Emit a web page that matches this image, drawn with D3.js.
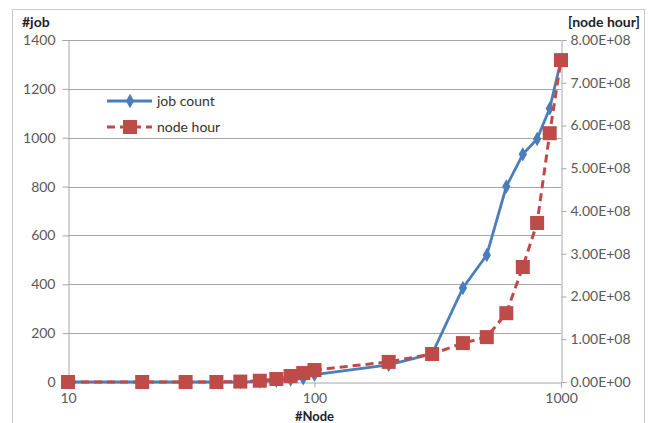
<!DOCTYPE html>
<html><head><meta charset="utf-8">
<script src="https://cdn.jsdelivr.net/npm/d3@7"></script>
<style>body{margin:0;background:#fff}svg{display:block}</style>
</head><body>
<svg id="c" width="648" height="423"></svg>
<script>
const nodes = [10,20,30,40,50,60,70,80,90,100,200,300,400,500,600,700,800,900,1000];
const jobCount = [0,0,0,0,0,2,5,10,15,30,70,115,385,520,800,932,995,1120,1317];
const nodeHour = [0,0,0,0,0.01e8,0.03e8,0.07e8,0.14e8,0.21e8,0.28e8,0.47e8,0.655e8,0.91e8,1.05e8,1.61e8,2.69e8,3.72e8,5.82e8,7.53e8];
const leftTicks = [0,200,400,600,800,1000,1200,1400];
const rightTicks = [0,1e8,2e8,3e8,4e8,5e8,6e8,7e8,8e8];
const xTicks = [10,100,1000];
const seriesNames = ["job count","node hour"];

const svg = d3.select("#c");
const font = "Lato, 'Open Sans', sans-serif";
const L=68, R=561, T=40, B=382;
const x = d3.scaleLog().domain([10,1000]).range([L,R]);
const yL = d3.scaleLinear().domain([0,1400]).range([B,T]);
const yR = d3.scaleLinear().domain([0,8e8]).range([B,T]);
const blue="#4a7ebb", red="#be4b48", grid="#a6a6a6", lab="#595959";

svg.append("rect").attr("x",12.5).attr("y",9.5).attr("width",632).attr("height",430)
  .attr("fill","none").attr("stroke","#c8c8c8");

// gridlines
svg.append("g").selectAll("line").data(leftTicks.filter(d=>d>0)).join("line")
  .attr("x1",L).attr("x2",R).attr("y1",d=>Math.round(yL(d))+0.5).attr("y2",d=>Math.round(yL(d))+0.5)
  .attr("stroke",grid).attr("stroke-width",1);

// left axis
const gl = svg.append("g").attr("transform",`translate(${L+0.5},0)`)
  .call(d3.axisLeft(yL).tickValues(leftTicks).tickSize(6).tickPadding(7).tickFormat(d3.format("d")));
gl.select(".domain").attr("stroke",grid);
gl.selectAll(".tick line").attr("stroke",grid);
gl.selectAll("text").attr("fill",lab).attr("font-size",14).attr("font-family",font);

// right axis
const gr = svg.append("g").attr("transform",`translate(${R+0.5},0)`)
  .call(d3.axisRight(yR).tickValues(rightTicks).tickSize(5).tickPadding(4)
    .tickFormat(d=>{const s=d.toExponential(2).toUpperCase();return s.replace(/E\+(\d)$/,"E+0$1");}));
gr.select(".domain").attr("stroke",grid);
gr.selectAll(".tick line").attr("stroke",grid);
gr.selectAll("text").attr("fill",lab).attr("font-size",14).attr("font-family",font);

// bottom axis
const gb = svg.append("g").attr("transform",`translate(0,${B+0.5})`)
  .call(d3.axisBottom(x).tickValues(xTicks).tickSize(5).tickPadding(6).tickFormat(d3.format("d")));
gb.select(".domain").attr("stroke",grid);
gb.selectAll(".tick line").attr("stroke",grid);
gb.selectAll("text").attr("fill",lab).attr("font-size",14).attr("font-family",font);

// titles
svg.append("text").attr("x",22).attr("y",27).text("#job").attr("font-weight","bold")
  .attr("font-size",14).attr("font-family",font).attr("fill","#222");
svg.append("text").attr("x",640).attr("y",27).attr("text-anchor","end").text("[node hour]").attr("font-weight","bold")
  .attr("font-size",14).attr("font-family",font).attr("fill","#222");
svg.append("text").attr("x",x(100)).attr("y",421).attr("text-anchor","middle").text("#Node").attr("font-weight","bold")
  .attr("font-size",13).attr("font-family",font).attr("fill","#222");

// series
const blueData = nodes.map((n,i)=>[n,jobCount[i]]);
const redData = nodes.map((n,i)=>[n,nodeHour[i]]);
svg.append("path").datum(blueData)
  .attr("d",d3.line().x(d=>x(d[0])).y(d=>yL(d[1])))
  .attr("fill","none").attr("stroke",blue).attr("stroke-width",2.8);
const diamond = d3.symbol().type(d3.symbolDiamond).size(60);
svg.append("g").selectAll("path").data(blueData).join("path")
  .attr("transform",d=>`translate(${x(d[0])},${yL(d[1])})`).attr("d",diamond).attr("fill",blue);

svg.append("path").datum(redData)
  .attr("d",d3.line().x(d=>x(d[0])).y(d=>yR(d[1])))
  .attr("fill","none").attr("stroke",red).attr("stroke-width",3).attr("stroke-dasharray","8,5");
svg.append("g").selectAll("rect").data(redData).join("rect")
  .attr("x",d=>x(d[0])-7).attr("y",d=>yR(d[1])-7).attr("width",14).attr("height",14).attr("fill",red);

// legend
const lg = svg.append("g");
lg.append("line").attr("x1",107).attr("x2",152).attr("y1",101).attr("y2",101).attr("stroke",blue).attr("stroke-width",2.8);
lg.append("path").attr("transform","translate(130,101)").attr("d",diamond).attr("fill",blue);
lg.append("text").attr("x",157).attr("y",106).text(seriesNames[0]).attr("font-size",14).attr("font-family",font).attr("fill","#333");
lg.append("line").attr("x1",107).attr("x2",152).attr("y1",127).attr("y2",127).attr("stroke",red).attr("stroke-width",3).attr("stroke-dasharray","8,5");
lg.append("rect").attr("x",123).attr("y",120).attr("width",14).attr("height",14).attr("fill",red);
lg.append("text").attr("x",157).attr("y",132).text(seriesNames[1]).attr("font-size",14).attr("font-family",font).attr("fill","#333");
</script>
</body></html>
